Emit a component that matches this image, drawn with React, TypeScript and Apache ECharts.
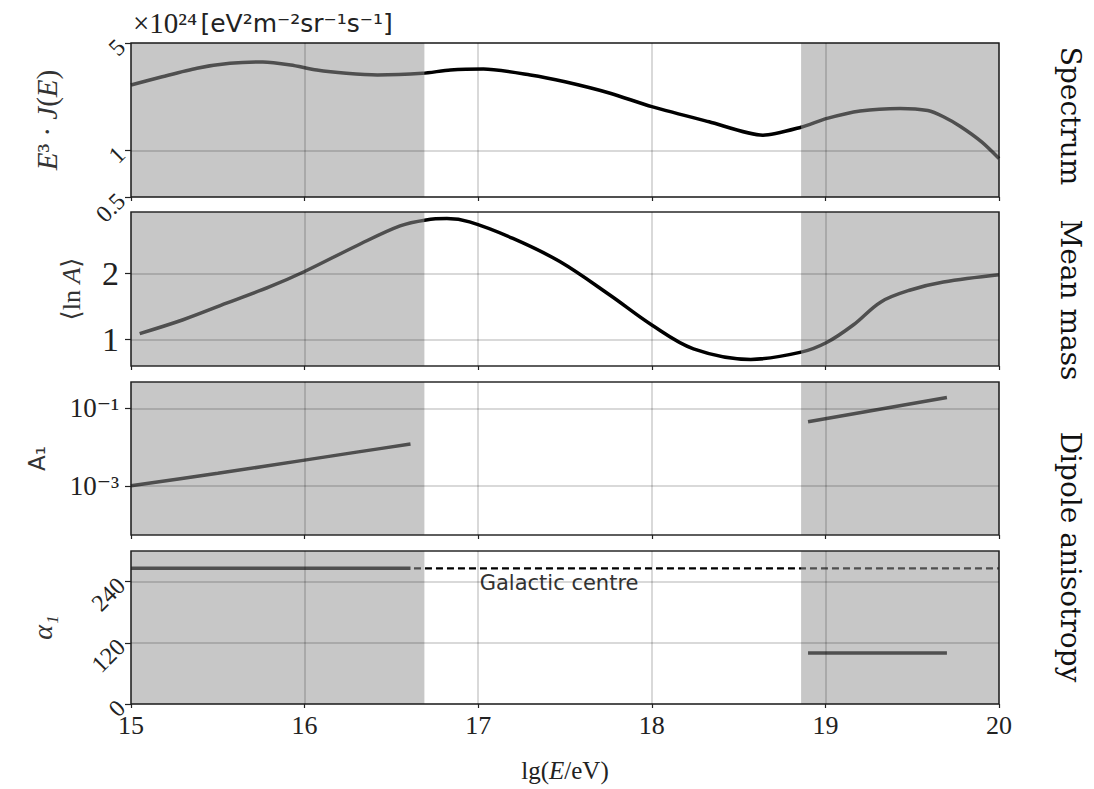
import React, { useEffect, useRef } from 'react';
import * as echarts from 'echarts';

// ---------- data ----------
const xTicks = [15, 16, 17, 18, 19, 20];

// Spectrum E^3 J(E) [x10^24 eV^2 m^-2 sr^-1 s^-1]
const spectrumLgE = [15.0, 15.18, 15.38, 15.57, 15.76, 15.92, 16.07, 16.24, 16.42, 16.68, 16.84, 17.03, 17.3, 17.5, 17.76, 18.0, 18.33, 18.64, 18.86, 19.01, 19.2, 19.43, 19.59, 19.68, 19.78, 19.9, 20.0];
const spectrumFlux = [2.67, 3.02, 3.43, 3.69, 3.77, 3.6, 3.34, 3.18, 3.1, 3.18, 3.34, 3.39, 3.1, 2.8, 2.36, 1.93, 1.54, 1.26, 1.42, 1.62, 1.81, 1.88, 1.82, 1.66, 1.43, 1.14, 0.89];

// Mean mass <ln A>
const massLgE = [15.05, 15.3, 15.55, 15.8, 16.0, 16.3, 16.55, 16.7, 16.82, 16.95, 17.2, 17.47, 17.76, 18.0, 18.24, 18.57, 18.86, 19.01, 19.16, 19.32, 19.49, 19.68, 20.0];
const massLnA = [1.09, 1.3, 1.55, 1.8, 2.03, 2.42, 2.72, 2.81, 2.83, 2.78, 2.53, 2.18, 1.67, 1.22, 0.86, 0.7, 0.81, 0.96, 1.22, 1.57, 1.75, 1.87, 1.98];

// Dipole amplitude A1
const dipoleLowLgE = [15.0, 15.5, 16.0, 16.3, 16.61];
const dipoleLowA1 = [0.001, 0.0021, 0.0046, 0.0074, 0.012];
const dipoleHighLgE = [18.9, 19.7];
const dipoleHighA1 = [0.045, 0.19];

// Dipole phase alpha1 [deg]
const phaseLowLgE = [15.0, 16.61];
const phaseLowDeg = [266, 266];
const phaseHighLgE = [18.9, 19.7];
const phaseHighDeg = [100, 100];
const galacticCentreLgE = [16.63, 20.0];
const galacticCentreDeg = [266, 266];
const galacticCentreLabelLgE = 17.0;

// shaded energy ranges
const shadedRanges = [[15.0, 16.69], [18.86, 20.0]];

// tick values
const spectrumTicks = [0.5, 1, 5];
const massTicks = [1, 2];
const dipoleTicks = [0.1, 0.001];
const phaseTicks = [0, 120, 240];

const panelTitles = ['Spectrum', 'Mean mass', 'Dipole anisotropy'];

// ---------- helpers ----------
const zip = (xs: number[], ys: number[], f: (v: number) => number = (v) => v) =>
  xs.map((x, i) => [x, f(ys[i])]);
const lg = (v: number) => Math.log10(v);

const SERIF = '"Liberation Serif", "DejaVu Serif", serif';
const SANS = '"DejaVu Sans", "Open Sans", sans-serif';

export default function App() {
  const ref = useRef<HTMLDivElement>(null);

  useEffect(() => {
    if (!ref.current) return;
    const chart = echarts.init(ref.current, undefined, { renderer: 'svg' });

    const gridDefs = [
      { top: 43, height: 154 },
      { top: 212, height: 154 },
      { top: 382, height: 153 },
      { top: 551, height: 153 },
    ];
    const grid = gridDefs.map((g) => ({
      left: 131,
      right: 95,
      top: g.top,
      height: g.height,
      show: true,
      borderColor: '#2a2a2a',
      borderWidth: 1.5,
      backgroundColor: 'transparent',
      z: 6,
    }));

    const xAxis = gridDefs.map((_, i) => ({
      gridIndex: i,
      type: 'value',
      min: 15,
      max: 20,
      interval: 1,
      z: 6,
      axisLine: { show: false, onZero: false },
      axisTick: { show: true, length: 4, lineStyle: { color: '#222', width: 1.2 } },
      axisLabel: {
        show: i === 3,
        fontFamily: SERIF,
        fontSize: 26,
        color: '#222',
        margin: 8,
        customValues: xTicks,
      },
      splitLine: { show: true, lineStyle: { color: 'rgba(0,0,0,0.2)', width: 1.5 } },
      name: i === 3 ? 'lg({i|E}/eV)' : '',
      nameLocation: 'middle',
      nameGap: 54,
      nameTextStyle: {
        fontFamily: SERIF,
        fontSize: 25,
        color: '#222',
        rich: { i: { fontFamily: SERIF, fontSize: 25, fontStyle: 'italic', color: '#222' } },
      },
    }));

    const yCommon = {
      type: 'value',
      z: 6,
      axisLine: { show: false, onZero: false },
      splitLine: { show: true, lineStyle: { color: 'rgba(0,0,0,0.2)', width: 1.5 } },
      nameLocation: 'middle',
      nameRotate: 90,
    };

    const yAxis = [
      {
        ...yCommon,
        gridIndex: 0,
        min: lg(0.5),
        max: lg(5),
        axisTick: { show: true, length: 6, lineStyle: { color: '#222', width: 1.2 }, customValues: spectrumTicks.map(lg) },
        axisLabel: {
          customValues: spectrumTicks.map(lg),
          rotate: 45,
          fontFamily: SERIF,
          fontSize: 24,
          color: '#222',
          margin: 10,
          formatter: (v: number) => String(Math.round(Math.pow(10, v) * 10) / 10),
        },
        name: '{i|E}³ · {i|J}({i|E})',
        nameGap: 70,
        nameTextStyle: {
          fontFamily: SERIF,
          fontSize: 29,
          color: '#333',
          rich: { i: { fontFamily: SERIF, fontSize: 29, fontStyle: 'italic', color: '#333' } },
        },
      },
      {
        ...yCommon,
        gridIndex: 1,
        min: 0.6,
        max: 2.93,
        axisTick: { show: true, length: 6, lineStyle: { color: '#222', width: 1.2 }, customValues: massTicks },
        axisLabel: {
          customValues: massTicks,
          fontFamily: SERIF,
          fontSize: 34,
          color: '#222',
          margin: 12,
        },
        name: '⟨ln {i|A}⟩',
        nameGap: 47,
        nameTextStyle: {
          fontFamily: SERIF,
          fontSize: 26,
          color: '#333',
          rich: { i: { fontFamily: SERIF, fontSize: 26, fontStyle: 'italic', color: '#333' } },
        },
      },
      {
        ...yCommon,
        gridIndex: 2,
        min: -4.27,
        max: -0.32,
        axisTick: { show: true, length: 6, lineStyle: { color: '#222', width: 1.2 }, customValues: dipoleTicks.map(lg) },
        axisLabel: {
          customValues: dipoleTicks.map(lg),
          fontFamily: SERIF,
          fontSize: 27,
          color: '#222',
          margin: 12,
          formatter: (v: number) => (Math.round(v) === -1 ? '10⁻¹' : '10⁻³'),
        },
        name: 'A₁',
        nameGap: 83,
        nameTextStyle: { fontFamily: SANS, fontSize: 23, color: '#333' },
      },
      {
        ...yCommon,
        gridIndex: 3,
        min: 0,
        max: 300,
        interval: 120,
        axisTick: { show: true, length: 6, lineStyle: { color: '#222', width: 1.2 }, customValues: phaseTicks },
        axisLabel: {
          customValues: phaseTicks,
          rotate: 45,
          fontFamily: SERIF,
          fontSize: 24,
          color: '#222',
          margin: 10,
        },
        name: 'α₁',
        nameGap: 75,
        nameTextStyle: { fontFamily: SERIF, fontSize: 28, fontStyle: 'italic', color: '#333' },
      },
    ];

    const baseLine = {
      type: 'line',
      showSymbol: false,
      symbol: 'none',
      z: 2,
      silent: true,
      lineStyle: { color: '#000', width: 3.5 },
      itemStyle: { color: '#000' },
    };

    const series: any[] = [
      { ...baseLine, xAxisIndex: 0, yAxisIndex: 0, smooth: 0.25, data: zip(spectrumLgE, spectrumFlux, lg) },
      { ...baseLine, xAxisIndex: 1, yAxisIndex: 1, smooth: 0.35, data: zip(massLgE, massLnA) },
      { ...baseLine, xAxisIndex: 2, yAxisIndex: 2, smooth: 0.3, data: zip(dipoleLowLgE, dipoleLowA1, lg) },
      { ...baseLine, xAxisIndex: 2, yAxisIndex: 2, data: zip(dipoleHighLgE, dipoleHighA1, lg) },
      { ...baseLine, xAxisIndex: 3, yAxisIndex: 3, data: zip(phaseLowLgE, phaseLowDeg) },
      { ...baseLine, xAxisIndex: 3, yAxisIndex: 3, data: zip(phaseHighLgE, phaseHighDeg) },
      {
        ...baseLine,
        xAxisIndex: 3,
        yAxisIndex: 3,
        lineStyle: { color: '#000', width: 2.2, type: [7, 4] },
        data: zip(galacticCentreLgE, galacticCentreDeg),
        markPoint: {
          symbol: 'circle',
          symbolSize: 1,
          itemStyle: { color: 'transparent' },
          data: [{ coord: [galacticCentreLabelLgE, galacticCentreDeg[0]] }],
          label: {
            show: true,
            position: 'right',
            distance: 1,
            offset: [0, 15],
            formatter: 'Galactic centre',
            fontFamily: SANS,
            fontSize: 21,
            color: '#333',
          },
        },
      },
    ];

    // shaded overlays (drawn above the curves, below the axes)
    gridDefs.forEach((_, i) => {
      series.push({
        type: 'line',
        xAxisIndex: i,
        yAxisIndex: i,
        data: [],
        z: 5,
        silent: true,
        markArea: {
          z: 5,
          silent: true,
          itemStyle: { color: 'rgba(150,150,150,0.53)' },
          data: shadedRanges.map((r) => [{ xAxis: r[0] }, { xAxis: r[1] }]),
        },
      });
    });

    const titleCentres = [116, 300, 557];
    const graphic: any[] = panelTitles.map((t, i) => ({
      type: 'text',
      x: 1070,
      y: titleCentres[i],
      rotation: -Math.PI / 2,
      style: {
        text: t,
        fontFamily: '"DejaVu Serif", serif',
        fontSize: 28,
        fill: '#111',
        align: 'center',
        verticalAlign: 'middle',
      },
    }));
    graphic.push({
      type: 'text',
      x: 133,
      y: 23,
      style: {
        text: '{a|×10²⁴} {b|[eV²m⁻²sr⁻¹s⁻¹]}',
        align: 'left',
        verticalAlign: 'middle',
        rich: {
          a: { fontFamily: SERIF, fontSize: 29, fill: '#222' },
          b: { fontFamily: SANS, fontSize: 25, fill: '#222' },
        },
      },
    });

    chart.setOption({
      animation: false,
      backgroundColor: '#fff',
      grid,
      xAxis,
      yAxis,
      series,
      graphic,
    });

    return () => chart.dispose();
  }, []);

  return (
    <div
      ref={ref}
      style={{ position: 'absolute', left: 0, top: 0, width: 1094, height: 789 }}
    />
  );
}
